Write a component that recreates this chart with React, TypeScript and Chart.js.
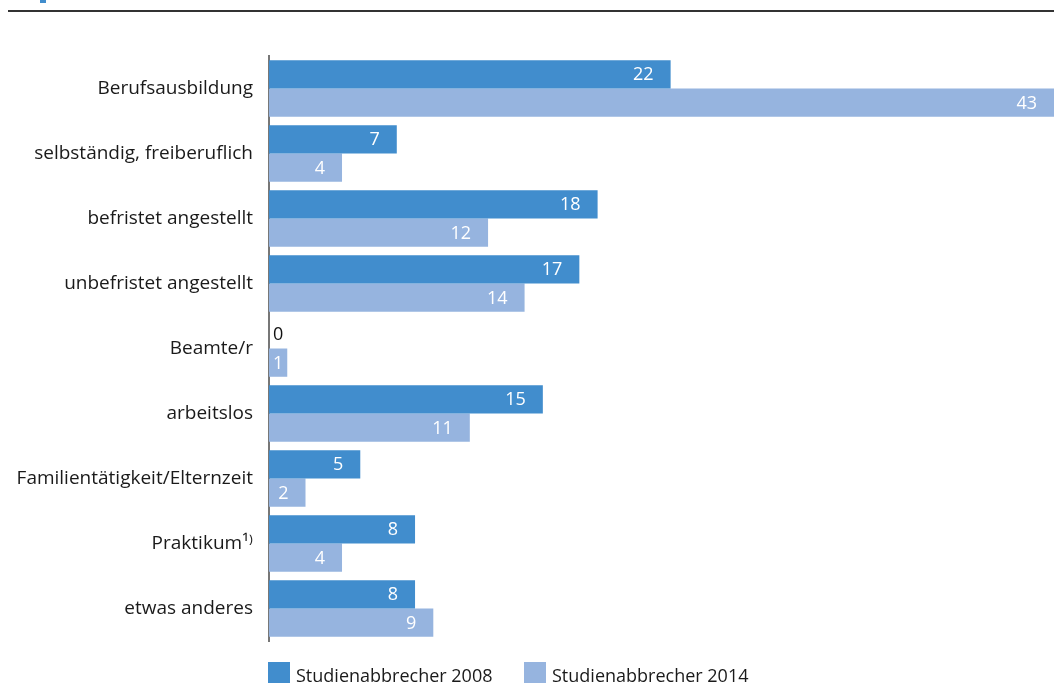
import React, { useEffect, useRef } from "react";
import { Chart, registerables } from "chart.js";

Chart.register(...registerables);

const categories = [
  "Berufsausbildung",
  "selbständig, freiberuflich",
  "befristet angestellt",
  "unbefristet angestellt",
  "Beamte/r",
  "arbeitslos",
  "Familientätigkeit/Elternzeit",
  "Praktikum¹⁾",
  "etwas anderes",
];
const values2008 = [22, 7, 18, 17, 0, 15, 5, 8, 8];
const values2014 = [43, 4, 12, 14, 1, 11, 2, 4, 9];
const seriesLabels = ["Studienabbrecher 2008", "Studienabbrecher 2014"];
const colors = ["#418dcd", "#96b4df"];

const FONT = "'Open Sans', 'Noto Sans', sans-serif";

const decorPlugin = {
  id: "decor",
  afterDraw(chart: any) {
    const ctx = chart.ctx as CanvasRenderingContext2D;
    ctx.save();
    // top rule
    ctx.fillStyle = "#333333";
    ctx.fillRect(8, 10, 1046, 2);
    ctx.fillStyle = colors[0];
    ctx.fillRect(40, 0, 6, 3);
    // value labels
    chart.data.datasets.forEach((ds: any, di: number) => {
      const meta = chart.getDatasetMeta(di);
      meta.data.forEach((bar: any, i: number) => {
        const v = ds.data[i];
        const txt = String(v);
        ctx.font = `18px ${FONT}`;
        const w = ctx.measureText(txt).width;
        const start = bar.base;
        const end = bar.x;
        let right = end - 17;
        if (right - w < start + 4) right = start + 4 + w;
        ctx.fillStyle = v === 0 ? "#111111" : "#ffffff";
        ctx.textAlign = "right";
        ctx.textBaseline = "middle";
        ctx.fillText(txt, right, bar.y + 1);
      });
    });
    // legend
    const legendX = [268, 524];
    ctx.font = `18px ${FONT}`;
    ctx.textAlign = "left";
    ctx.textBaseline = "alphabetic";
    seriesLabels.forEach((lbl, i) => {
      ctx.fillStyle = colors[i];
      ctx.fillRect(legendX[i], 662, 22, 22);
      ctx.fillStyle = "#1a1a1a";
      ctx.fillText(lbl, legendX[i] + 28, 682);
    });
    ctx.restore();
  },
};

export default function App() {
  const ref = useRef<HTMLCanvasElement>(null);
  useEffect(() => {
    if (!ref.current) return;
    const chart = new Chart(ref.current, {
      type: "bar",
      data: {
        labels: categories,
        datasets: [
          { label: seriesLabels[0], data: values2008, backgroundColor: colors[0], barPercentage: 1, categoryPercentage: 0.87 },
          { label: seriesLabels[1], data: values2014, backgroundColor: colors[1], barPercentage: 1, categoryPercentage: 0.87 },
        ],
      },
      options: {
        indexAxis: "y",
        animation: false,
        responsive: false,
        devicePixelRatio: 1,
        layout: { padding: { left: 0, right: 0, top: 56, bottom: 42 } },
        plugins: { legend: { display: false }, tooltip: { enabled: false } },
        scales: {
          x: { display: false, min: 0, max: 43 },
          y: {
            afterFit: (s: any) => { s.width = 269; },
            grid: { display: false, drawTicks: false },
            border: { display: true, color: "#777777", width: 2 },
            ticks: { color: "#1a1a1a", font: { family: FONT, size: 19 }, padding: 16 },
          },
        },
      },
      plugins: [decorPlugin],
    });
    return () => chart.destroy();
  }, []);
  return (
    <div style={{ position: "absolute", left: 0, top: 0, width: 1054, height: 683, background: "#fff" }}>
      <canvas ref={ref} width={1054} height={683} />
    </div>
  );
}
